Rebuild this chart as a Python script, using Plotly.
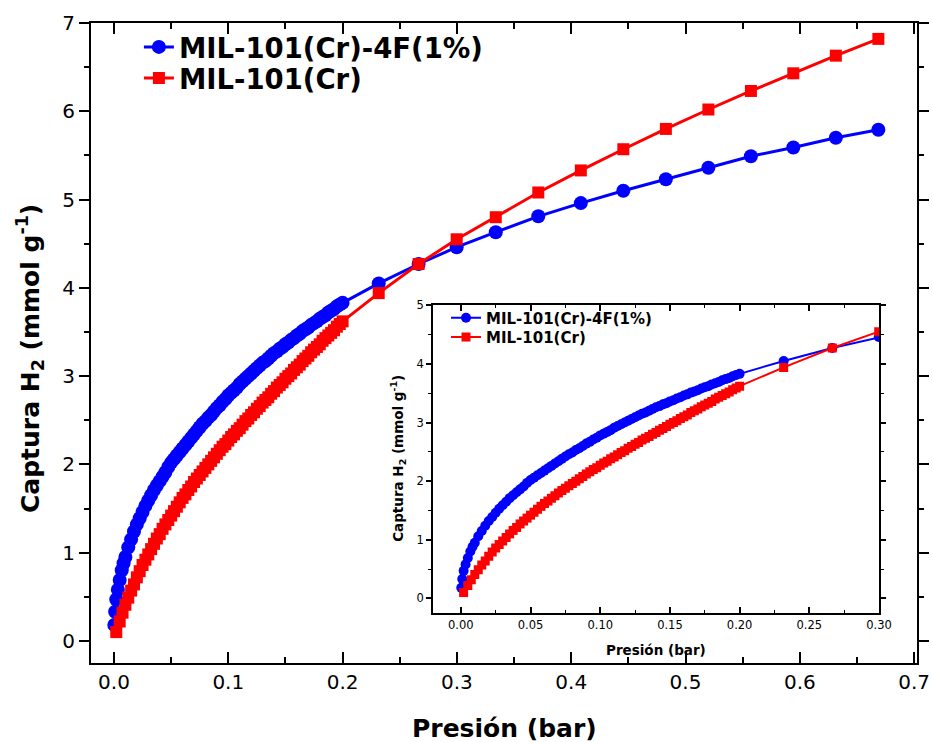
import plotly.graph_objects as go

# ---------------- data ----------------
series_names = ["MIL-101(Cr)-4F(1%)", "MIL-101(Cr)"]

pressure_4f = [
    0.0003, 0.0010, 0.0020, 0.0034, 0.0050, 0.0068, 0.0084,
    0.0100, 0.0125, 0.0150, 0.0175, 0.0200, 0.0225, 0.0250, 0.0275, 0.0300, 0.0325,
    0.0350, 0.0375, 0.0400, 0.0425, 0.0450, 0.0475, 0.0500, 0.0525, 0.0550, 0.0575,
    0.0600, 0.0625, 0.0650, 0.0675, 0.0700, 0.0725, 0.0750, 0.0775, 0.0800, 0.0825,
    0.0850, 0.0875, 0.0900, 0.0925, 0.0950, 0.0975, 0.1000, 0.1025, 0.1050, 0.1075,
    0.1100, 0.1125, 0.1150, 0.1175, 0.1200, 0.1225, 0.1250, 0.1275, 0.1300, 0.1325,
    0.1350, 0.1375, 0.1400, 0.1425, 0.1450, 0.1475, 0.1500, 0.1525, 0.1550, 0.1575,
    0.1600, 0.1625, 0.1650, 0.1675, 0.1700, 0.1725, 0.1750, 0.1775, 0.1800, 0.1825,
    0.1850, 0.1875, 0.1900, 0.1925, 0.1950, 0.1975, 0.2000,
    0.2316, 0.2665, 0.2998, 0.3340, 0.3712, 0.4084, 0.4456, 0.4828, 0.5200,
    0.5572, 0.5943, 0.6315, 0.6687,
]
uptake_4f = [
    0.18, 0.33, 0.47, 0.58, 0.69, 0.80, 0.88,
    0.95, 1.06, 1.15, 1.24, 1.32, 1.39, 1.46, 1.53, 1.59, 1.65,
    1.71, 1.76, 1.81, 1.86, 1.91, 1.97, 2.02, 2.06, 2.10, 2.14,
    2.18, 2.22, 2.26, 2.30, 2.34, 2.38, 2.42, 2.46, 2.49, 2.53,
    2.56, 2.60, 2.64, 2.67, 2.71, 2.74, 2.78, 2.81, 2.84, 2.87,
    2.91, 2.94, 2.97, 3.00, 3.03, 3.06, 3.09, 3.12, 3.15, 3.17,
    3.20, 3.23, 3.26, 3.28, 3.31, 3.33, 3.36, 3.38, 3.41, 3.43,
    3.46, 3.48, 3.51, 3.53, 3.55, 3.58, 3.60, 3.62, 3.65, 3.67,
    3.69, 3.72, 3.74, 3.76, 3.79, 3.81, 3.83,
    4.05, 4.27, 4.46, 4.63, 4.81, 4.96, 5.10, 5.23, 5.36,
    5.49, 5.59, 5.70, 5.79,
]

pressure_cr = [
    0.0020, 0.0050, 0.0075, 0.0100, 0.0125, 0.0150, 0.0175, 0.0200, 0.0225, 0.0250,
    0.0275, 0.0300, 0.0325, 0.0350, 0.0375, 0.0400, 0.0425, 0.0450, 0.0475, 0.0500,
    0.0525, 0.0550, 0.0575, 0.0600, 0.0625, 0.0650, 0.0675, 0.0700, 0.0725, 0.0750,
    0.0775, 0.0800, 0.0825, 0.0850, 0.0875, 0.0900, 0.0925, 0.0950, 0.0975, 0.1000,
    0.1025, 0.1050, 0.1075, 0.1100, 0.1125, 0.1150, 0.1175, 0.1200, 0.1225, 0.1250,
    0.1275, 0.1300, 0.1325, 0.1350, 0.1375, 0.1400, 0.1425, 0.1450, 0.1475, 0.1500,
    0.1525, 0.1550, 0.1575, 0.1600, 0.1625, 0.1650, 0.1675, 0.1700, 0.1725, 0.1750,
    0.1775, 0.1800, 0.1825, 0.1850, 0.1875, 0.1900, 0.1925, 0.1950, 0.1975, 0.2000,
    0.2316, 0.2665, 0.2998, 0.3340, 0.3712, 0.4084, 0.4456, 0.4828, 0.5200,
    0.5572, 0.5943, 0.6315, 0.6687,
]
uptake_cr = [
    0.10, 0.22, 0.32, 0.41, 0.49, 0.57, 0.64, 0.72, 0.79, 0.86,
    0.92, 0.98, 1.04, 1.10, 1.16, 1.21, 1.27, 1.32, 1.37, 1.42,
    1.47, 1.52, 1.57, 1.62, 1.66, 1.71, 1.75, 1.80, 1.84, 1.88,
    1.92, 1.96, 2.00, 2.04, 2.08, 2.12, 2.16, 2.20, 2.23, 2.27,
    2.31, 2.34, 2.38, 2.41, 2.45, 2.49, 2.52, 2.56, 2.59, 2.63,
    2.66, 2.70, 2.73, 2.76, 2.80, 2.83, 2.87, 2.90, 2.93, 2.97,
    3.00, 3.03, 3.07, 3.10, 3.13, 3.17, 3.20, 3.23, 3.27, 3.30,
    3.33, 3.36, 3.40, 3.43, 3.46, 3.49, 3.52, 3.56, 3.59, 3.62,
    3.94, 4.27, 4.55, 4.80, 5.08, 5.33, 5.57, 5.80, 6.02,
    6.23, 6.43, 6.63, 6.82,
]

main_xticks = [0.0, 0.1, 0.2, 0.3, 0.4, 0.5, 0.6, 0.7]
main_yticks = [0, 1, 2, 3, 4, 5, 6, 7]
inset_xticks = [0.00, 0.05, 0.10, 0.15, 0.20, 0.25, 0.30]
inset_yticks = [0, 1, 2, 3, 4, 5]

x_title = "Presión (bar)"
y_title = "Captura H<sub>2</sub> (mmol g<sup>-1</sup>)"

BLUE = "#0000FF"
RED = "#FF0000"
FONT = "DejaVu Sans"

fig = go.Figure()

# ---------------- main traces ----------------
fig.add_trace(go.Scatter(
    x=pressure_4f, y=uptake_4f, mode="lines+markers", name=series_names[0],
    line=dict(color=BLUE, width=3), marker=dict(symbol="circle", size=14, color=BLUE),
    xaxis="x", yaxis="y", legend="legend", showlegend=True,
))
fig.add_trace(go.Scatter(
    x=pressure_cr, y=uptake_cr, mode="lines+markers", name=series_names[1],
    line=dict(color=RED, width=3), marker=dict(symbol="square", size=12, color=RED),
    xaxis="x", yaxis="y", legend="legend3", showlegend=True,
))

# ---------------- inset traces ----------------
fig.add_trace(go.Scatter(
    x=pressure_4f, y=uptake_4f, mode="lines+markers", name=series_names[0],
    line=dict(color=BLUE, width=2), marker=dict(symbol="circle", size=10, color=BLUE),
    xaxis="x2", yaxis="y2", legend="legend2", showlegend=True,
))
fig.add_trace(go.Scatter(
    x=pressure_cr, y=uptake_cr, mode="lines+markers", name=series_names[1],
    line=dict(color=RED, width=2), marker=dict(symbol="square", size=9, color=RED),
    xaxis="x2", yaxis="y2", legend="legend4", showlegend=True,
))

axis_common = dict(showline=True, linecolor="black", showgrid=False, zeroline=False,
                   tickcolor="black", automargin=False)

def legend_box(x, y, size):
    return dict(
        x=x, y=y, xanchor="left", yanchor="middle",
        bgcolor="rgba(0,0,0,0)", borderwidth=0,
        font=dict(size=size, family=FONT, weight="bold"),
        tracegroupgap=0, visible=True,
    )

fig.update_layout(
    width=933, height=742,
    showlegend=True,
    margin=dict(l=91, r=16, t=23, b=79, autoexpand=False),
    paper_bgcolor="white", plot_bgcolor="white",
    font=dict(family=FONT, color="black"),
    xaxis=dict(
        **axis_common, domain=[0, 1], range=[-0.0201, 0.7025],
        tickvals=main_xticks, ticktext=[f"{v:.1f}" for v in main_xticks],
        ticks="inside", ticklen=11, tickwidth=2, linewidth=2, mirror="allticks",
        tickfont=dict(size=20, family=FONT),
        minor=dict(ticks="inside", ticklen=6, tickwidth=2, dtick=0.05, tick0=0, tickcolor="black"),
        anchor="y",
    ),
    yaxis=dict(
        **axis_common, domain=[0, 1], range=[-0.25, 7.0],
        tickvals=main_yticks, ticktext=[str(v) for v in main_yticks],
        ticks="outside", ticklen=10, tickwidth=2, linewidth=2, mirror="allticks",
        tickfont=dict(size=20, family=FONT),
        minor=dict(ticks="outside", ticklen=5, tickwidth=2, dtick=0.5, tick0=0, tickcolor="black"),
        anchor="x",
    ),
    xaxis2=dict(
        **axis_common, domain=[0.414, 0.954], range=[-0.02, 0.30],
        tickvals=inset_xticks, ticktext=[f"{v:.2f}" for v in inset_xticks],
        ticks="inside", ticklen=6, tickwidth=1.5, linewidth=1.5, mirror="allticks",
        tickfont=dict(size=11.5, family=FONT),
        minor=dict(ticks="inside", ticklen=3, tickwidth=1, dtick=0.025, tick0=0, tickcolor="black"),
        anchor="y2",
    ),
    yaxis2=dict(
        **axis_common, domain=[0.078, 0.559], range=[-0.25, 5.0],
        tickvals=inset_yticks, ticktext=[str(v) for v in inset_yticks],
        ticks="outside", ticklen=5, tickwidth=1.5, linewidth=1.5, mirror="allticks",
        tickfont=dict(size=11.5, family=FONT),
        minor=dict(ticks="outside", ticklen=3, tickwidth=1, dtick=0.5, tick0=0, tickcolor="black"),
        anchor="x2",
    ),
    legend=legend_box(0.058, 0.9625, 27.5),
    legend3=legend_box(0.058, 0.9140, 27.5),
    legend2=legend_box(0.4298, 0.539, 15),
    legend4=legend_box(0.4298, 0.509, 15),
    annotations=[
        dict(text=x_title, xref="paper", yref="paper", x=0.5, y=-0.1016,
             xanchor="center", yanchor="middle", showarrow=False,
             font=dict(size=25, family=FONT, weight="bold")),
        dict(text=y_title, xref="paper", yref="paper", x=-0.0738, y=0.475,
             xanchor="center", yanchor="middle", textangle=-90, showarrow=False,
             font=dict(size=25, family=FONT, weight="bold")),
        dict(text=x_title, xref="paper", yref="paper", x=0.684, y=0.0203,
             xanchor="center", yanchor="middle", showarrow=False,
             font=dict(size=13.5, family=FONT, weight="bold")),
        dict(text=y_title, xref="paper", yref="paper", x=0.3717, y=0.319,
             xanchor="center", yanchor="middle", textangle=-90, showarrow=False,
             font=dict(size=13.5, family=FONT, weight="bold")),
    ],
)

fig.write_html(
    "out.html",
    config={"displayModeBar": False},
    post_script=(
        "document.body.style.margin='0';"
        "document.body.style.overflow='hidden';"
        "document.documentElement.style.overflow='hidden';"
    ),
)
